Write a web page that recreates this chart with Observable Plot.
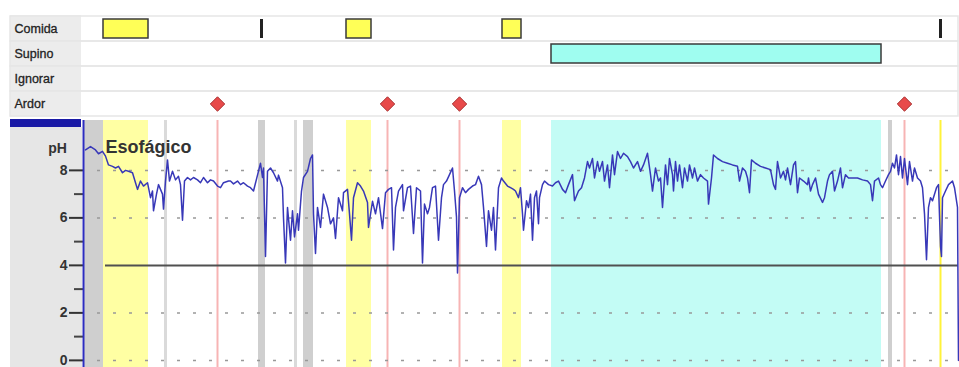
<!DOCTYPE html>
<html><head><meta charset="utf-8">
<script src="https://cdn.jsdelivr.net/npm/d3@7"></script>
<script src="https://cdn.jsdelivr.net/npm/@observablehq/plot@0.6"></script>
<style>
html,body{margin:0;padding:0;background:#fff;}
#wrap{position:relative;width:959px;height:367px;overflow:hidden;font-family:"Liberation Sans",Arial,sans-serif;}
.panel{position:absolute;}
#arriba,#ph{position:absolute;left:0;}
#arriba{top:0}
#ph{top:120px}
#ph g[aria-label^="y-axis"] path,#ph g[aria-label^="y-axis"] line{stroke-width:2px;}
#ph g[aria-label^="y-axis"] text{font-weight:bold;}
</style></head><body>
<div id="wrap">
 <div class="panel" style="left:10px;top:15px;width:71px;height:102px;background:#ececec"></div>
 <div class="panel" style="left:10px;top:127px;width:72px;height:240px;background:#e6e6e6"></div>
 <div class="panel" style="left:10px;top:119px;width:71px;height:8px;background:#1a1aa6"></div>
 <div id="arriba"></div><div id="ph"></div>
</div>
<script>
const filas = ["Comida","Supino","Ignorar","Ardor"];
const comidas = [[20,65],[263,288],[419,438]];
const comidaBreve = [178, 857];
const supino = [[468,798]];
const ardor = [134,304,376,821];
const bandasGrises = [[0,20],[175,182],[220,230],[805,809]];
const marcasClaras = [82,212];
const marcaAmarilla = [857];
const ticksMayores = [0,2,4,6,8];
const ticksMenores = [1,3,5,7];
const lineasGuia = [0,2,6,8];
const umbral = [4];

const tiempo = [
2,7,12,15,19,22,25,29,32,35,
39,42,45,49,52,54,57,60,64,67,
69,70,73,75,79,80,82,84,86,89,
92,95,97,99,101,104,107,110,114,117,
120,124,127,130,134,137,140,145,147,150,
154,157,160,164,167,170,174,177,179,180,
182,184,187,190,194,195,199,200,202,204,
207,209,211,214,215,218,220,224,227,229,
230,232,234,237,240,244,247,250,252,255,
259,260,264,266,268,270,274,277,280,284,
285,289,292,295,299,302,305,308,310,312,
315,319,320,324,327,330,333,337,339,341,
344,346,349,352,355,358,360,363,366,369,
371,373,374,376,379,382,385,389,392,395,
398,400,403,405,408,410,412,415,418,420,
424,427,430,432,435,437,439,440,443,445,
447,449,451,453,455,456,459,461,465,469,
472,475,479,482,485,489,491,495,498,501,
504,506,509,511,514,516,519,521,524,526,
529,531,534,537,540,544,547,550,554,557,
560,564,567,569,572,575,577,579,582,584,
586,589,590,592,594,596,599,601,604,606,
609,611,614,617,620,624,625,628,630,634,
639,644,649,654,656,659,662,664,666,668,
672,677,682,687,690,692,694,697,700,702,
704,707,710,712,714,716,720,724,725,727,
729,732,735,739,741,744,746,749,751,754,
757,759,762,765,769,774,779,784,787,789,
791,795,797,799,802,805,807,809,811,813,
815,817,819,821,824,826,829,831,834,837,
839,841,843,845,847,849,853,855,857,858,
859,862,865,869,871,874,875];
const ph = [
8.86,9.0,8.86,8.7,8.8,8.6,8.23,8.17,8.1,8.17,
7.9,8.0,7.96,7.9,7.48,7.2,7.55,7.34,7.48,6.85,
7.13,6.3,7.0,7.4,7.0,6.37,7.55,8.44,7.55,7.96,
7.6,7.75,7.4,5.9,7.55,7.7,7.6,7.7,7.6,7.48,
7.7,7.48,7.6,7.55,7.34,7.27,7.48,7.55,7.55,7.43,
7.55,7.4,7.48,7.34,7.27,7.13,7.8,8.3,7.7,8.1,
4.37,7.96,8.1,7.9,7.55,7.8,7.27,6.0,4.1,6.44,
5.06,6.3,5.2,6.17,5.48,7.13,7.7,7.96,8.5,8.65,
6.17,4.5,6.44,5.6,7.0,6.44,5.75,6.0,5.13,6.85,
6.3,7.06,7.2,6.17,5.06,6.85,7.48,7.34,7.13,6.65,
5.6,6.7,6.17,6.85,5.55,7.06,7.2,7.27,4.65,6.44,
7.13,7.4,6.3,7.27,7.34,5.34,7.27,7.13,4.1,6.58,
6.17,6.44,7.27,7.34,5.06,6.85,7.4,7.55,7.82,8.1,
7.13,6.03,3.68,6.85,7.27,7.06,7.2,7.34,7.4,7.75,
7.4,6.44,4.8,6.3,5.48,6.44,4.65,7.27,7.68,7.55,
7.34,7.27,7.2,7.13,6.85,7.27,6.17,5.48,6.72,6.44,
7.0,5.06,6.85,7.13,5.75,6.85,7.4,7.55,7.4,7.34,
7.48,7.55,7.2,7.06,7.4,7.82,6.72,7.13,7.27,7.68,
8.37,8.1,8.5,7.68,8.37,7.96,8.37,7.55,8.23,7.27,
8.65,7.82,8.79,8.5,8.72,8.58,8.37,8.1,8.37,7.96,
8.23,8.72,7.82,7.13,8.1,7.55,7.68,6.44,8.23,7.4,
8.5,7.82,7.13,8.37,7.55,8.23,7.27,8.1,7.55,8.23,
7.68,8.1,7.55,7.82,7.68,7.55,6.58,7.68,8.65,8.5,
8.37,8.3,8.23,8.17,7.55,8.1,7.96,7.68,7.06,8.44,
8.3,8.17,8.1,8.03,7.4,7.2,8.37,7.68,7.96,7.6,
8.1,7.4,8.23,8.37,7.06,7.68,7.55,7.4,7.68,7.13,
7.4,7.68,7.0,6.65,6.85,7.55,7.82,7.96,7.13,7.55,
8.1,7.27,7.82,7.68,7.68,7.68,7.6,7.55,7.4,6.72,
7.55,7.68,7.4,7.27,7.55,7.82,7.96,8.3,8.1,8.65,
7.82,8.58,7.68,8.5,7.4,8.37,7.55,8.1,7.68,7.55,
7.27,6.17,4.24,6.44,6.85,6.72,7.27,7.4,4.8,4.37,
6.85,7.13,7.4,7.55,7.27,6.44,0];

const serie = tiempo.map((t,i) => ({t, ph: ph[i]}));
const fuente = '"Liberation Sans", Arial, sans-serif';

const graficoEventos = Plot.plot({
  width: 959, height: 120,
  marginLeft: 83, marginRight: 1, marginTop: 15, marginBottom: 3,
  style: {background: "transparent", fontFamily: fuente, fontSize: "13px", color: "#222", overflow: "visible"},
  x: {domain: [0, 875], axis: null},
  y: {domain: filas, axis: null, padding: 0},
  marks: [
    Plot.barX(filas, {y: d => d, x1: -73, x2: 875, fill: "none", stroke: "#e6e6e6", strokeWidth: 1.5}),
    Plot.barX(comidas, {x1: d => d[0], x2: d => d[1], y: () => "Comida", insetTop: 3, insetBottom: 3, fill: "#ffff57", stroke: "#3a3a3a", strokeWidth: 1.5}),
    Plot.tickX(comidaBreve, {x: d => d, y: () => "Comida", insetTop: 3, insetBottom: 3, stroke: "#222", strokeWidth: 3}),
    Plot.barX(supino, {x1: d => d[0], x2: d => d[1], y: () => "Supino", insetTop: 3, insetBottom: 3, fill: "#9ffdf0", stroke: "#3a3a3a", strokeWidth: 1.5}),
    Plot.dot(ardor, {x: d => d, y: () => "Ardor", symbol: "diamond2", r: 6.5, fill: "#e84a4a", stroke: "#a83030", strokeWidth: 1}),
    Plot.text(filas, {y: d => d, text: d => d, frameAnchor: "left", dx: -69, textAnchor: "start", fontSize: 12.5, fill: "#222", stroke: "#222", strokeWidth: 0.3})
  ]
});
document.getElementById("arriba").appendChild(graficoEventos);

const graficoPH = Plot.plot({
  width: 959, height: 247,
  marginLeft: 83, marginRight: 1, marginTop: 0, marginBottom: 0,
  style: {background: "transparent", fontFamily: fuente, fontSize: "14px", color: "#333", overflow: "visible"},
  x: {domain: [0, 875], axis: null},
  y: {domain: [-0.3, 10.1], ticks: ticksMayores, tickSize: 14, tickPadding: 2, label: null},
  marks: [
    Plot.rect(supino, {x1: d => d[0], x2: d => d[1], fill: "#c3fcf5"}),
    Plot.rect(comidas, {x1: d => d[0], x2: d => d[1], fill: "#ffffa3"}),
    Plot.rect(bandasGrises, {x1: d => d[0], x2: d => d[1], fill: "#cfcfcf"}),
    Plot.ruleX(marcasClaras, {stroke: "#dadada", strokeWidth: 3}),
    Plot.ruleX(marcaAmarilla, {stroke: "#fff23a", strokeWidth: 2}),
    Plot.ruleX(ardor, {stroke: "#f7b4b4", strokeWidth: 2}),
    Plot.ruleY(lineasGuia, {stroke: "#999", strokeWidth: 1.5, strokeDasharray: "3,13", strokeDashoffset: 2}),
    Plot.ruleY(umbral, {x1: 22, x2: 875, stroke: "#505050", strokeWidth: 2}),
    Plot.ruleY(ticksMenores, {x1: -9, x2: 0, stroke: "#444", strokeWidth: 2}),
    Plot.line(serie, {x: "t", y: "ph", stroke: "#3838b8", strokeWidth: 1.5}),
    Plot.ruleX([0], {stroke: "#2c2cc0", strokeWidth: 2}),
    Plot.text(["Esofágico"], {frameAnchor: "top-left", dx: 22, dy: 20, textAnchor: "start", fontSize: 18, fontWeight: "bold", fill: "#333"}),
    Plot.text(["pH"], {frameAnchor: "top-left", dx: -26, dy: 23, textAnchor: "middle", fontSize: 14, fontWeight: "bold", fill: "#333"})
  ]
});
document.getElementById("ph").appendChild(graficoPH);
</script>
</body></html>
